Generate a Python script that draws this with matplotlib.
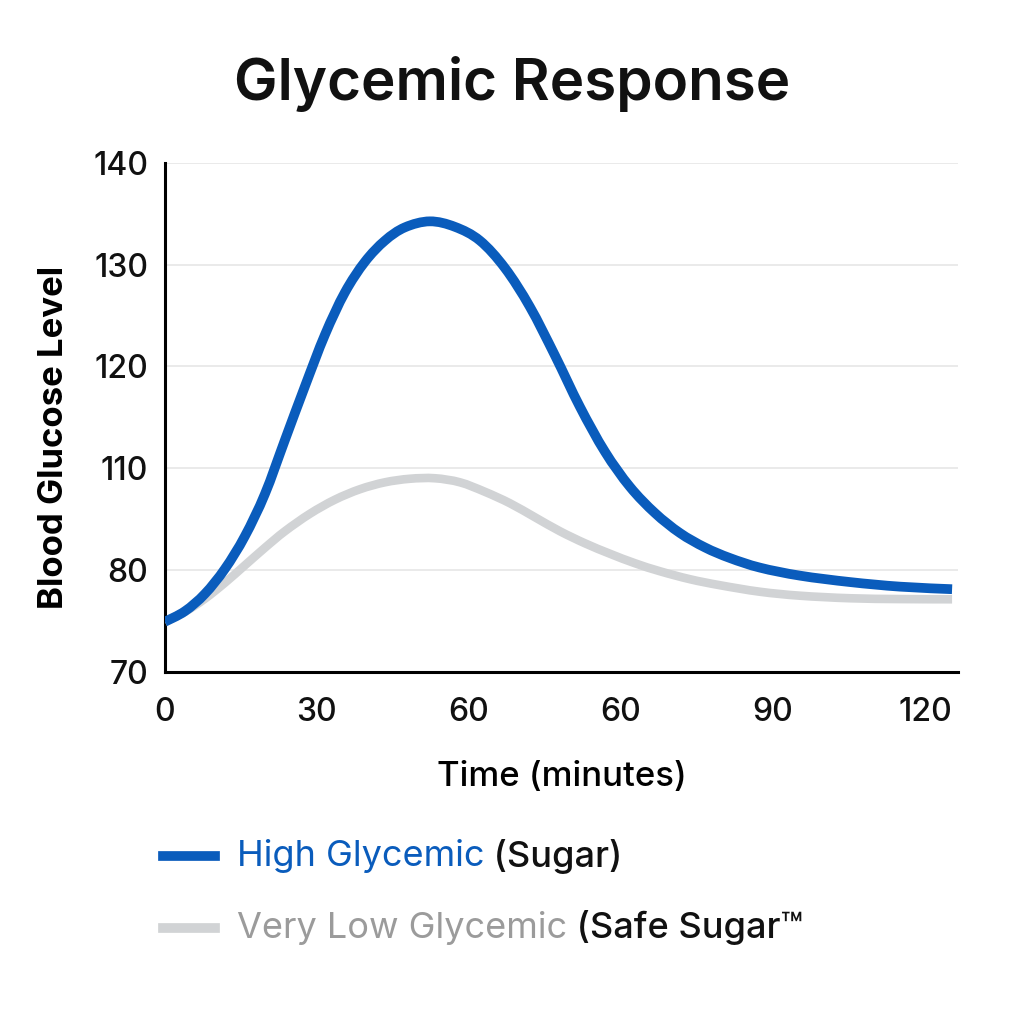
import matplotlib.pyplot as plt
from matplotlib.lines import Line2D
from matplotlib.path import Path
from matplotlib.patches import PathPatch

# axis positions (ticks are evenly spaced, labels as printed on the chart)
x_ticklabels = ['0', '30', '60', '60', '90', '120']
y_ticklabels = ['70', '80', '110', '120', '130', '140']

# curves, in tick-position units
high_x = [0.000, 0.132, 0.263, 0.395, 0.526, 0.658, 0.789, 0.921, 1.053, 1.184,
          1.316, 1.447, 1.579, 1.743, 1.908, 2.072, 2.237, 2.401, 2.566, 2.730,
          2.895, 3.059, 3.224, 3.388, 3.553, 3.717, 3.914, 4.178, 4.507, 4.836, 5.178]
high_y = [0.491, 0.595, 0.765, 1.011, 1.331, 1.746, 2.274, 2.803, 3.311, 3.726,
          4.028, 4.235, 4.366, 4.425, 4.371, 4.236, 3.966, 3.585, 3.107, 2.603,
          2.161, 1.817, 1.559, 1.363, 1.221, 1.117, 1.023, 0.944, 0.881, 0.836, 0.811]
low_x = [0.000, 0.132, 0.263, 0.395, 0.526, 0.658, 0.789, 0.954, 1.118, 1.283,
         1.447, 1.612, 1.776, 1.941, 2.105, 2.270, 2.434, 2.599, 2.763, 2.928,
         3.092, 3.257, 3.454, 3.651, 3.914, 4.178, 4.507, 4.836, 5.178]
low_y = [0.491, 0.589, 0.717, 0.874, 1.045, 1.218, 1.380, 1.552, 1.690, 1.793,
         1.861, 1.896, 1.901, 1.861, 1.768, 1.655, 1.518, 1.380, 1.262, 1.159,
         1.066, 0.987, 0.909, 0.850, 0.786, 0.747, 0.722, 0.714, 0.712]

blue = '#0a5cbc'
gray = '#d1d3d5'
gray_text = '#9b9b9b'


def smooth_path(xs, ys):
    # catmull-rom through the points, drawn as bezier segments
    pts = list(zip(xs, ys))
    verts = [pts[0]]
    codes = [Path.MOVETO]
    for i in range(len(pts) - 1):
        p0 = pts[i - 1] if i > 0 else pts[i]
        p1, p2 = pts[i], pts[i + 1]
        p3 = pts[i + 2] if i + 2 < len(pts) else pts[i + 1]
        c1 = (p1[0] + (p2[0] - p0[0]) / 6, p1[1] + (p2[1] - p0[1]) / 6)
        c2 = (p2[0] - (p3[0] - p1[0]) / 6, p2[1] - (p3[1] - p1[1]) / 6)
        verts += [c1, c2, p2]
        codes += [Path.CURVE4] * 3
    return Path(verts, codes)


plt.rcParams['font.family'] = ['Inter', 'DejaVu Sans']

fig = plt.figure(figsize=(10.24, 10.24), dpi=100)
ax = fig.add_axes([0.161, 0.344, 0.775, 0.497])

ax.add_patch(PathPatch(smooth_path(low_x, low_y), fc='none', ec=gray, lw=6.2,
                       capstyle='butt', zorder=3))
ax.add_patch(PathPatch(smooth_path(high_x, high_y), fc='none', ec=blue, lw=7,
                       capstyle='butt', zorder=4))

ax.set_xlim(0, 5.22)
ax.set_ylim(0, 5)
ax.set_xticks(range(6))
ax.set_xticklabels(x_ticklabels, fontweight='medium')
ax.set_yticks(range(6))
ax.set_yticklabels(y_ticklabels, fontweight='medium')
ax.tick_params(axis='both', length=0, labelsize=23, colors='#111111')
ax.tick_params(axis='x', pad=18)
ax.tick_params(axis='y', pad=12)
ax.grid(axis='y', color='#e6e6e6', lw=1.2)
ax.set_axisbelow(True)
for s in ['top', 'right']:
    ax.spines[s].set_visible(False)
ax.spines['left'].set_linewidth(2.2)
ax.spines['bottom'].set_linewidth(2.2)

ax.set_xlabel('Time (minutes)', fontsize=25, fontweight='medium', labelpad=24)
ax.set_ylabel('Blood Glucose Level', fontsize=25, fontweight='bold')
ax.yaxis.set_label_coords(-0.12, 0.46)

fig.text(0.5, 0.918, 'Glycemic Response', ha='center', va='center',
         fontsize=42, fontweight='semibold', color='#111111')

# legend drawn by hand
fig.canvas.draw()
r = fig.canvas.get_renderer()
rows = [(0.164, blue, 'High Glycemic', blue, ' (Sugar)'),
        (0.094, gray, 'Very Low Glycemic', gray_text, ' (Safe Sugar\u2122')]
for y, lc, t1, c1, t2 in rows:
    fig.add_artist(Line2D([0.159, 0.210], [y, y], color=lc, lw=7, transform=fig.transFigure))
    a = fig.text(0.231, y, t1, color=c1, fontsize=26, va='center')
    bb = a.get_window_extent(r)
    fig.text(bb.x1 / fig.bbox.width, y, t2, color='#111111', fontsize=26, va='center',
             fontweight='medium')

plt.savefig('out.png', dpi=100)
